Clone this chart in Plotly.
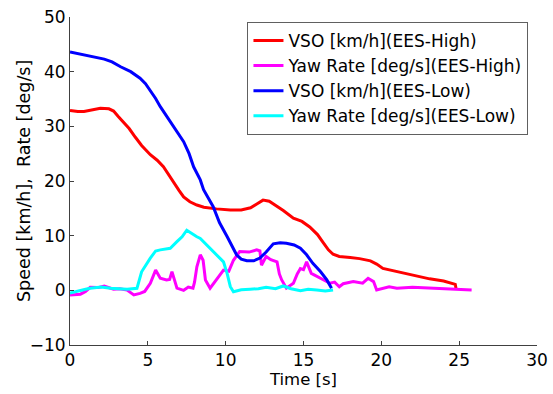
import plotly.graph_objects as go

# ---- data ----
t_vso_high = [0, 0.5, 0.9, 1.5, 1.95, 2.5, 2.8, 3.1, 3.5, 3.8, 4.2, 4.6, 5.16, 5.6, 6.0, 6.3, 6.65, 7.0, 7.3, 7.7, 8.15, 8.6, 9.4, 10.3, 11.0, 11.6, 12.0, 12.4, 12.8, 13.2, 13.7, 14.35, 14.9, 15.4, 15.9, 16.3, 16.6, 16.9, 17.3, 18.0, 18.6, 19.3, 19.7, 20.1, 21.0, 22.3, 23.1, 24.0, 24.6, 24.75, 24.8]
v_vso_high = [32.9, 32.7, 32.7, 33.0, 33.3, 33.2, 32.8, 31.8, 30.6, 29.6, 28.0, 26.5, 24.8, 23.8, 22.6, 21.3, 19.6, 18.3, 17.1, 16.2, 15.6, 15.2, 14.9, 14.7, 14.7, 15.1, 15.8, 16.5, 16.3, 15.6, 14.6, 13.2, 12.6, 11.6, 10.2, 8.6, 7.4, 6.6, 6.2, 6.0, 5.8, 5.4, 4.8, 4.0, 3.4, 2.6, 2.1, 1.7, 1.2, 1.1, 0.3]

t_yaw_high = [0, 0.67, 1.0, 1.3, 1.8, 2.2, 2.8, 3.2, 3.67, 4.1, 4.5, 4.8, 5.16, 5.35, 5.5, 5.8, 6.2, 6.4, 6.55, 6.7, 6.87, 7.3, 7.6, 7.9, 8.0, 8.15, 8.37, 8.55, 8.7, 9.0, 9.44, 9.86, 10.2, 10.5, 10.9, 11.5, 12.0, 12.2, 12.3, 12.6, 12.9, 13.3, 13.45, 13.6, 13.9, 14.35, 14.6, 14.8, 15.0, 15.2, 15.5, 16.06, 16.7, 17.0, 17.3, 17.55, 18.2, 18.8, 19.15, 19.5, 19.7, 20.5, 21.0, 22.0, 23.1, 24.6, 25.8]
v_yaw_high = [-0.85, -0.7, -0.2, 0.55, 0.5, 0.8, 0.2, 0.3, 0.05, -0.85, -0.55, -0.2, 1.3, 2.8, 3.7, 2.2, 1.9, 2.0, 3.4, 2.0, 0.4, 0.0, 0.6, 0.4, 1.5, 4.3, 6.5, 5.5, 1.9, 0.4, 2.2, 3.7, 3.5, 5.5, 7.1, 7.0, 7.4, 7.2, 4.6, 6.2, 5.6, 5.2, 3.0, 1.9, 0.4, 1.3, 3.0, 4.0, 3.8, 5.2, 3.1, 2.2, 1.3, 1.5, 0.66, 1.2, 1.6, 1.3, 2.2, 1.6, 0.06, 0.66, 0.4, 0.55, 0.37, 0.18, 0.06]

t_vso_low = [0, 0.5, 1.1, 1.6, 2.2, 2.7, 3.25, 3.9, 4.5, 4.85, 5.16, 5.5, 5.8, 6.23, 6.76, 7.3, 7.65, 7.94, 8.37, 8.58, 9.2, 9.6, 10.1, 10.4, 10.7, 11.0, 11.36, 11.8, 12.2, 12.6, 13.06, 13.5, 13.9, 14.4, 14.8, 15.2, 15.6, 16.1, 16.5, 16.8]
v_vso_low = [43.6, 43.3, 43.0, 42.7, 42.3, 41.8, 40.9, 40.0, 38.8, 37.8, 36.6, 35.1, 33.6, 31.8, 29.6, 27.2, 25.0, 22.6, 20.2, 18.4, 15.3, 12.4, 9.8, 8.0, 6.5, 5.7, 5.4, 5.4, 5.9, 7.0, 8.5, 8.7, 8.6, 8.3, 7.7, 6.5, 4.95, 3.4, 1.9, 0.4]

t_yaw_low = [0, 0.67, 1.0, 1.3, 2.0, 2.6, 3.2, 3.67, 4.3, 4.6, 5.16, 5.5, 5.8, 6.44, 6.87, 7.2, 7.5, 7.8, 8.15, 8.37, 9.0, 9.2, 9.86, 10.1, 10.3, 10.5, 11.0, 11.57, 12.1, 12.6, 13.2, 13.7, 14.2, 14.8, 15.3, 15.85, 16.4, 16.9]
v_yaw_low = [-0.5, 0.06, 0.2, 0.37, 0.6, 0.4, 0.3, 0.2, 0.37, 3.4, 5.9, 7.2, 7.4, 7.7, 8.9, 9.8, 11.0, 10.4, 9.8, 9.5, 7.7, 7.1, 5.2, 3.0, 0.66, -0.25, 0.1, 0.2, 0.3, 0.55, 0.3, 0.8, 0.3, -0.06, 0.2, 0.06, -0.1, 0.06]

x_ticks = [0, 5, 10, 15, 20, 25, 30]
y_ticks = [-10, 0, 10, 20, 30, 40, 50]

names = ["VSO [km/h](EES-High)", "Yaw Rate [deg/s](EES-High)",
         "VSO [km/h](EES-Low)", "Yaw Rate [deg/s](EES-Low)"]
colors = ["#ff0000", "#ff00ff", "#0000ff", "#00ffff"]
y_title = "Speed [km/h],  Rate [deg/s]"
x_title = "Time [s]"

FONT = "DejaVu Sans, sans-serif"

fig = go.Figure()
series = [(t_vso_high, v_vso_high), (t_yaw_high, v_yaw_high),
          (t_vso_low, v_vso_low), (t_yaw_low, v_yaw_low)]
for (tx, vy), nm, c in zip(series, names, colors):
    fig.add_trace(go.Scatter(x=tx, y=vy, mode="lines", name=nm,
                             line=dict(color=c, width=3)))

axis_common = dict(showgrid=False, zeroline=False, showline=True,
                   linecolor="#404040", linewidth=1, ticks="inside",
                   ticklen=4, tickcolor="#404040", mirror=False,
                   automargin=False,
                   tickfont=dict(family=FONT, size=17, color="black"))

fig.update_layout(
    width=553, height=394,
    margin=dict(l=70, r=16, t=17, b=49),
    paper_bgcolor="white", plot_bgcolor="white",
    font=dict(family=FONT, color="black"),
    xaxis=dict(range=[0, 30], tickvals=x_ticks, **axis_common,
               title=dict(text=x_title, font=dict(family=FONT, size=16.5), standoff=2)),
    yaxis=dict(range=[-10, 50], tickvals=y_ticks, **axis_common),
    legend=dict(x=0.38, y=0.985, xanchor="left", yanchor="top",
                bgcolor="white", bordercolor="#606060", borderwidth=1,
                font=dict(family=FONT, size=17, color="black"),
                tracegroupgap=0, itemwidth=30),
    showlegend=True,
    annotations=[dict(text=y_title, xref="paper", yref="paper",
                      x=-0.0985, y=0.5, xanchor="center", yanchor="middle",
                      textangle=-90, showarrow=False,
                      font=dict(family=FONT, size=17.5, color="black"))],
)

fig.write_html("out.html", config={"displayModeBar": False},
               post_script="document.body.style.margin='0';document.body.style.overflow='hidden';")
